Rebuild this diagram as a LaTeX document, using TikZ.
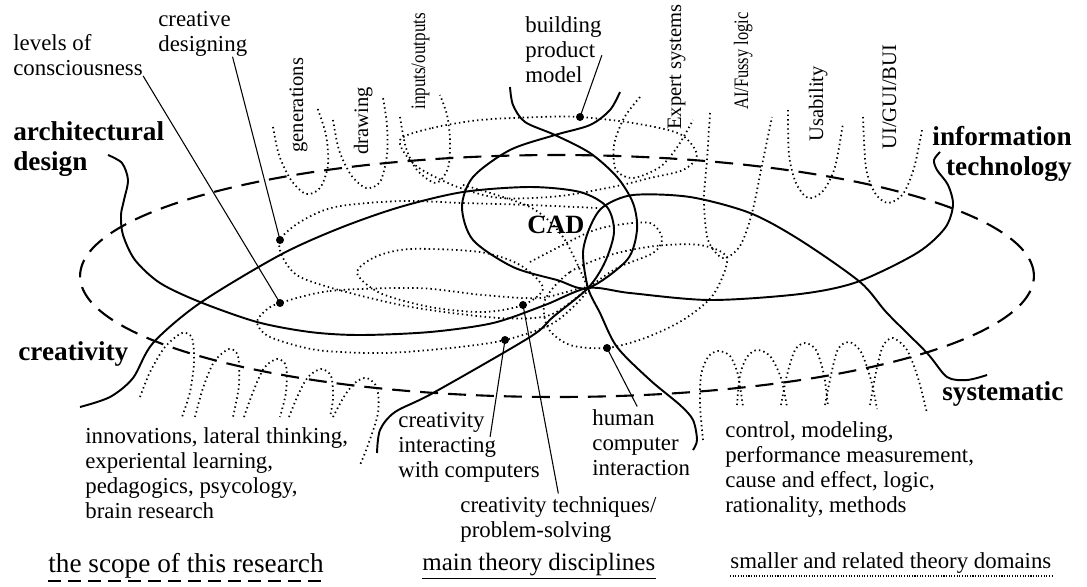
\documentclass[tikz,border=0pt]{standalone}
\usepackage{fontspec}
\setmainfont{Liberation Serif}

\tikzset{
  research/.style={line width=1.2pt, dash pattern=on 0.36cm off 0.2cm},
  maindisc/.style={line width=1.1pt},
  smalldom/.style={line width=1pt, dash pattern=on 0.8pt off 1.8pt},
  pointer/.style={line width=0.6pt},
  dotpin/.style={circle, fill=black, inner sep=0pt, minimum size=0.16cm},
  lbl/.style={inner sep=0pt, align=left, font=\fontsize{13}{14.2}\selectfont},
  head/.style={inner sep=0pt, align=left, font=\fontsize{15.5}{17}\selectfont\bfseries},
  vlbl/.style={inner sep=0pt, rotate=90, anchor=base west, font=\fontsize{11.7}{13}\selectfont},
}

\begin{document}
\begin{tikzpicture}[x=0.02cm,y=-0.02cm]
\useasboundingbox (0,0) rectangle (1087,586);

\coordinate (focus) at (588,288);
\node[dotpin] (dlvl) at (280,303) {};
\node[dotpin] (dcrd) at (280,240) {};
\node[dotpin] (dbpm) at (580,117) {};
\node[dotpin] (dcic) at (505,340) {};
\node[dotpin] (dctp) at (523,305) {};
\node[dotpin] (dhci) at (607,348) {};

% the scope of this research
\draw[research] (557,276) ellipse [x radius=9.54cm, y radius=2.42cm];

% smaller domains, top
\draw[smalldom] plot[smooth] coordinates {(273,127) (279,155) (291,180) (306,194) (320,188) (328,165) (326,135) (317,107)};
\draw[smalldom] plot[smooth] coordinates {(333,120) (339,150) (351,175) (366,188) (380,182) (387,155) (387,125) (383,98)};
\draw[smalldom] plot[smooth] coordinates {(400,117) (406,148) (417,170) (436,183) (448,168) (450,140) (447,115) (440,95)};
\draw[smalldom] plot[smooth] coordinates {(640,97) (624,118) (614,145) (616,170) (633,178) (660,167) (678,146) (693,120)};
\draw[smalldom] plot[smooth] coordinates {(710,113) (707,160) (704,200) (708,240) (723,258) (740,246) (752,213) (762,165) (772,117)};
\draw[smalldom] plot[smooth] coordinates {(788,110) (789,155) (796,183) (808,198) (823,191) (835,167) (843,123)};
\draw[smalldom] plot[smooth] coordinates {(863,117) (866,168) (875,193) (888,203) (903,194) (914,168) (922,130)};

% smaller domains, creativity side
\draw[smalldom] plot[smooth] coordinates {(140,397) (150,372) (165,347) (182,333) (192,338) (194,362) (190,392) (182,417)};
\draw[smalldom] plot[smooth] coordinates {(195,417) (203,388) (214,362) (229,349) (238,356) (239,385) (233,417)};
\draw[smalldom] plot[smooth] coordinates {(244,417) (253,392) (264,368) (277,359) (286,366) (286,392) (280,417)};
\draw[smalldom] plot[smooth] coordinates {(289,417) (298,395) (308,377) (321,369) (331,376) (333,398) (330,417)};
\draw[smalldom] plot[smooth] coordinates {(333,417) (345,395) (356,382) (367,378) (377,388) (378,413) (368,445) (360,465)};

% smaller domains, systematic side
\draw[smalldom] plot[smooth] coordinates {(703,440) (700,405) (701,375) (708,357) (718,351) (730,356) (738,375) (743,407)};
\draw[smalldom] plot[smooth] coordinates {(737,405) (740,375) (747,357) (757,350) (770,356) (781,378) (787,407)};
\draw[smalldom] plot[smooth] coordinates {(781,405) (787,375) (795,350) (805,343) (816,350) (824,375) (828,407)};
\draw[smalldom] plot[smooth] coordinates {(825,405) (831,375) (838,349) (849,342) (861,352) (871,380) (877,409)};
\draw[smalldom] plot[smooth] coordinates {(870,405) (876,372) (883,346) (893,338) (907,350) (918,378) (927,413)};

% inner domains round CAD
\draw[smalldom] plot[smooth cycle] coordinates {(400,140) (432,128) (480,120) (540,117) (dbpm) (633,123) (680,134) (697,155) (683,170) (650,178) (617,186) (560,196) (500,198) (455,186) (415,165)};
\draw[smalldom] plot[smooth] coordinates {(463,185) (530,207) (563,237) (focus)};
\draw[smalldom] plot[smooth] coordinates {(597,208) (530,205) (463,203) (400,201) (335,207) (300,222) (dcrd) (283,258) (300,277) (350,293) (417,308) (500,318) (550,315) (focus)};
\draw[smalldom] plot[smooth cycle] coordinates {(dlvl) (330,291) (417,288) (483,295) (540,298) (focus) (555,322) (dcic) (450,348) (383,353) (317,350) (270,337) (257,323) (265,311)};
\draw[smalldom] plot[smooth cycle] coordinates {(357,273) (375,257) (410,249) (480,252) (520,265) (543,288) (dctp) (483,312) (430,307) (380,293)};
\draw[smalldom] plot[smooth cycle] coordinates {(545,300) (570,272) (610,255) (655,246) (700,245) (727,258) (713,295) (683,320) (645,338) (dhci) (570,345) (548,328)};
\draw[smalldom] plot[smooth] coordinates {(530,262) (587,233) (617,225) (650,223) (662,238) (653,253) (617,268) (focus)};

% main theory disciplines
\draw[maindisc] plot[smooth] coordinates {(108,155) (122,163) (128,180) (124,200) (121,215) (123,235) (135,260) (160,283) (200,302) (257,322) (310,332) (360,335) (430,332) (493,323) (545,305) (focus) (630,293) (710,300) (800,294) (857,282) (917,253) (945,228) (953,205) (948,185) (937,170) (934,160) (940,152)};
\draw[maindisc] plot[smooth] coordinates {(80,407) (110,397) (133,378) (153,343) (200,303) (280,255) (340,228) (400,207) (463,192) (530,187) (580,192) (607,207) (614,232) (605,262) (focus) (553,317) (530,337) (433,393) (395,412) (380,430) (377,453)};
\draw[maindisc] plot[smooth] coordinates {(987,375) (967,380) (947,377) (927,353) (887,313) (860,282) (800,240) (750,213) (690,197) (633,195) (603,207) (590,227) (583,253) (focus) (600,313) (617,347) (650,380) (680,405) (693,420) (697,440) (693,450)};
\draw[maindisc] plot[smooth] coordinates {(510,87) (513,105) (525,122) (555,135) (590,153) (617,177) (633,203) (637,230) (627,260) (focus) (557,280) (513,267) (473,240) (462,207) (473,177) (510,150) (555,135) (590,125) (610,110) (620,92)};

% labels
\node[head, anchor=north west] (arch) at (13,121) {architectural\\design};
\node[head, anchor=north east, align=right] (itech) at (1072,126) {information\\technology};
\node[head, anchor=base west] (creat) at (18,360) {creativity};
\node[head, anchor=base west] (syst) at (942,400) {systematic};
\node[head, anchor=base west, font=\fontsize{15}{17}\selectfont\bfseries] (cadlbl) at (527,233) {CAD};

\node[vlbl] (gen) at (303,153) {generations};
\node[vlbl] (drw) at (368,155) {drawing};
\node[vlbl, xscale=0.83] (ino) at (425,110) {inputs/outputs};
\node[vlbl] (exs) at (681,130) {Expert systems};
\node[vlbl, xscale=0.8] (aif) at (748,110) {AI/Fussy logic};
\node[vlbl] (usa) at (823,142) {Usability};
\node[vlbl] (gui) at (896,150) {UI/GUI/BUI};

\node[lbl, anchor=north west] (lvl) at (13,34) {levels of\\consciousness};
\node[lbl, anchor=north west] (crd) at (158,11) {creative\\designing};
\node[lbl, anchor=north west] (bpm) at (525,16) {building\\product\\model};
\node[lbl, anchor=north west] (inn) at (85,427) {innovations, lateral thinking,\\experiental learning,\\pedagogics, psycology,\\brain research};
\node[lbl, anchor=north west] (ctl) at (725,421) {control, modeling,\\performance measurement,\\cause and effect, logic,\\rationality, methods};
\node[lbl, anchor=north west] (cic) at (398,412) {creativity\\interacting\\with computers};
\node[lbl, anchor=north west] (ctp) at (460,496) {creativity techniques/\\problem-solving};
\node[lbl, anchor=north west] (hci) at (592,409) {human\\computer\\interaction};

\draw[pointer] (lvl.south east) -- (dlvl.center);
\draw[pointer] ([xshift=-0.3cm]crd.south east) -- (dcrd.center);
\draw[pointer] ([yshift=-0.12cm]bpm.east) -- (dbpm.center);
\draw[pointer] ([shift={(0.42cm,-0.5cm)}]cic.north) -- (dcic.center);
\draw[pointer] ([yshift=0.05cm]ctp.north) -- (dctp.center);
\draw[pointer] ([shift={(-0.08cm,0.05cm)}]hci.north) -- (dhci.center);

% legend
\node[inner sep=0pt, anchor=base west, font=\fontsize{15.5}{17}\selectfont] (lgscope) at (48,572) {the scope of this research};
\node[inner sep=0pt, anchor=base west, font=\fontsize{14.2}{16}\selectfont] (lgmain) at (422,570) {main theory disciplines};
\node[inner sep=0pt, anchor=base west, font=\fontsize{13}{15}\selectfont] (lgsmall) at (730,568) {smaller and related theory domains};
\draw[line width=1pt, dash pattern=on 0.26cm off 0.14cm] ([yshift=-1.5pt]lgscope.south west) -- ([yshift=-1.5pt]lgscope.south east);
\draw[line width=1pt] ([yshift=-1.5pt]lgmain.south west) -- ([yshift=-1.5pt]lgmain.south east);
\draw[line width=0.8pt, dash pattern=on 0.6pt off 0.9pt] ([yshift=-1.5pt]lgsmall.south west) -- ([yshift=-1.5pt]lgsmall.south east);
\end{tikzpicture}
\end{document}
